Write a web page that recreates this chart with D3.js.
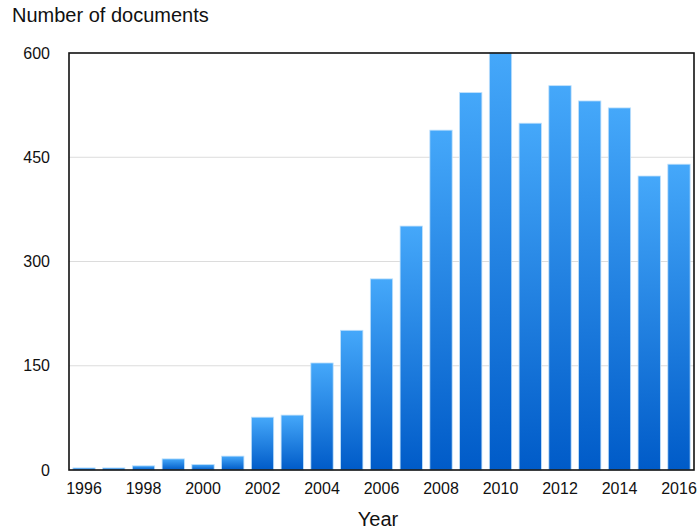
<!DOCTYPE html>
<html>
<head>
<meta charset="utf-8">
<script src="https://cdn.jsdelivr.net/npm/d3@7"></script>
<style>
  html, body { margin: 0; padding: 0; background: #fff; }
  svg { display: block; font-family: "Liberation Sans", Arial, Helvetica, sans-serif; }
</style>
</head>
<body>
<svg id="chart" width="697" height="531"></svg>
<script>
// Documents published per year
const years = [1996, 1997, 1998, 1999, 2000, 2001, 2002, 2003, 2004, 2005, 2006,
               2007, 2008, 2009, 2010, 2011, 2012, 2013, 2014, 2015, 2016];
const documents = [3, 3, 6, 16, 8, 20, 76, 79, 154, 201, 275,
                   351, 489, 543, 600, 499, 553, 531, 521, 423, 440];
const yTicks = [0, 150, 300, 450, 600];
const xTickLabels = [1996, 1998, 2000, 2002, 2004, 2006, 2008, 2010, 2012, 2014, 2016];

const svg = d3.select("#chart");
const W = 697, H = 531;
const m = { left: 69, top: 53, right: 3, bottom: 61 };
const iw = W - m.left - m.right, ih = H - m.top - m.bottom;

const x = d3.scaleBand().domain(years).range([m.left, m.left + iw]).paddingInner(0.25).paddingOuter(0.13);
const y = d3.scaleLinear().domain([0, 600]).range([m.top + ih, m.top]);

// Vertical blue gradient for the bars
const defs = svg.append("defs");
const grad = defs.append("linearGradient").attr("id", "barGrad")
  .attr("x1", 0).attr("y1", 0).attr("x2", 0).attr("y2", 1);
grad.append("stop").attr("offset", "0%").attr("stop-color", "#45a8fa");
grad.append("stop").attr("offset", "100%").attr("stop-color", "#005bc8");

// Horizontal grid lines
svg.append("g").selectAll("line").data(yTicks.filter(d => d > 0 && d < 600)).join("line")
  .attr("x1", m.left).attr("x2", m.left + iw)
  .attr("y1", d => y(d)).attr("y2", d => y(d))
  .attr("stroke", "#dcdcdc").attr("stroke-width", 1);

// Bars
svg.append("g").selectAll("rect").data(years).join("rect")
  .attr("x", d => x(d))
  .attr("width", x.bandwidth())
  .attr("y", (d, i) => y(documents[i]))
  .attr("height", (d, i) => y(0) - y(documents[i]))
  .attr("fill", "url(#barGrad)")
  .attr("stroke", "#bfe0fb").attr("stroke-width", 0.8);

// Plot frame
svg.append("rect")
  .attr("x", m.left).attr("y", m.top).attr("width", iw).attr("height", ih)
  .attr("fill", "none").attr("stroke", "#111").attr("stroke-width", 1.6);

// Y axis labels
const yAxis = d3.axisLeft(y).tickValues(yTicks).tickSize(0).tickPadding(19);
const gy = svg.append("g").attr("transform", `translate(${m.left},0)`).call(yAxis);
gy.select(".domain").remove();
gy.selectAll("text").attr("font-size", 16).attr("fill", "#111")
  .style("font-family", "Liberation Sans, Arial, sans-serif");

// X axis labels
const xAxis = d3.axisBottom(x).tickValues(xTickLabels).tickSize(0).tickPadding(13);
const gx = svg.append("g").attr("transform", `translate(0,${m.top + ih})`).call(xAxis);
gx.select(".domain").remove();
gx.selectAll("text").attr("font-size", 16).attr("fill", "#111")
  .style("font-family", "Liberation Sans, Arial, sans-serif");

// Axis titles
svg.append("text").attr("x", 12).attr("y", 22)
  .attr("font-size", 20).attr("fill", "#111").text("Number of documents");
svg.append("text").attr("x", 378).attr("y", 526).attr("text-anchor", "middle")
  .attr("font-size", 20).attr("fill", "#111").text("Year");
</script>
</body>
</html>
